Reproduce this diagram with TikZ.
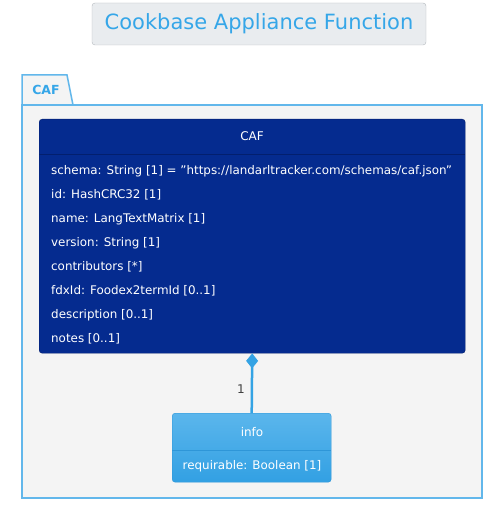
\documentclass[tikz,border=0pt]{standalone}
\usepackage{fontspec}
\setmainfont{DejaVu Sans}
\usetikzlibrary{arrows.meta,positioning}

\definecolor{titlefill}{HTML}{E9ECEF}
\definecolor{titleline}{HTML}{B4B9BE}
\definecolor{skytext}{HTML}{35A6E8}
\definecolor{pkgfill}{HTML}{F4F4F4}
\definecolor{pkgline}{HTML}{62B7EB}
\definecolor{cafnavy}{HTML}{052B8F}
\definecolor{cafsep}{HTML}{031F6E}
\definecolor{infotop}{HTML}{5BB6EC}
\definecolor{infobot}{HTML}{32A0E3}
\definecolor{infoline}{HTML}{2E96D8}
\definecolor{linkblue}{HTML}{34A3E4}

\newcommand{\dq}{\char34\relax}

\tikzset{
  titlebox/.style={draw=titleline, fill=titlefill, rounded corners=3pt,
    minimum width=334pt, minimum height=42pt, text=skytext,
    font=\fontsize{21}{24}\selectfont},
  classbox/.style={anchor=north west, rounded corners=3pt, inner sep=0pt},
  classname/.style={text=white, inner sep=0pt, font=\fontsize{12}{14}\selectfont},
  attr/.style={anchor=west, text=white, inner sep=0pt,
    font=\fontsize{11.9}{14}\selectfont},
  link/.style={draw=linkblue, line width=2.5pt},
}

\begin{document}
\begin{tikzpicture}[x=1pt,y=-1pt]
\useasboundingbox (0,0) rectangle (503,510);

% title
\node[titlebox] (title) at (259,24) {Cookbase Appliance Function};

% package CAF
\path[fill=pkgfill, draw=pkgline, line width=1.5pt]
  (22,105) -- (22,75) -- (67,75) -- (73,105) -- cycle;
\path[fill=pkgfill, draw=pkgline, line width=1.5pt]
  (22,105) rectangle (482,498);
\node[text=skytext, font=\fontsize{12.5}{14}\selectfont\bfseries, inner sep=0pt]
  (pkg) at (46,90) {CAF};

% class CAF
\node[classbox, fill=cafnavy, draw=cafsep, minimum width=426pt,
  minimum height=234pt] (caf) at (39,119) {};
\node[classname] (caf name) at (252,136) {CAF};
\draw[cafsep] (39,154) -- (465,154);
\foreach \t [count=\i from 0] in {%
  {schema: String [1] = \dq https://landarltracker.com/schemas/caf.json\dq},
  {id: HashCRC32 [1]},
  {name: LangTextMatrix [1]},
  {version: String [1]},
  {contributors [*]},
  {fdxId: Foodex2termId [0..1]},
  {description [0..1]},
  {notes [0..1]}}
  \node[attr] (caf attr \i) at (51,171+24*\i) {\t};

% class info
\node[classbox, top color=infotop, bottom color=infobot, draw=infoline,
  minimum width=159pt, minimum height=69pt] (info) at (172,413) {};
\node[classname] (info name) at (252,432) {info};
\draw[infoline] (172,450) -- (331,450);
\node[attr, anchor=center] (info attr 0) at (252,466) {requirable: Boolean [1]};

% composition
\draw[link, {Diamond[length=15pt,width=12pt]}-] (caf.south) -- (info.north)
  node[pos=0.6, left=6pt, text=black!75, font=\fontsize{12}{14}\selectfont,
    inner sep=0pt] (mult) {1};
\end{tikzpicture}
\end{document}
